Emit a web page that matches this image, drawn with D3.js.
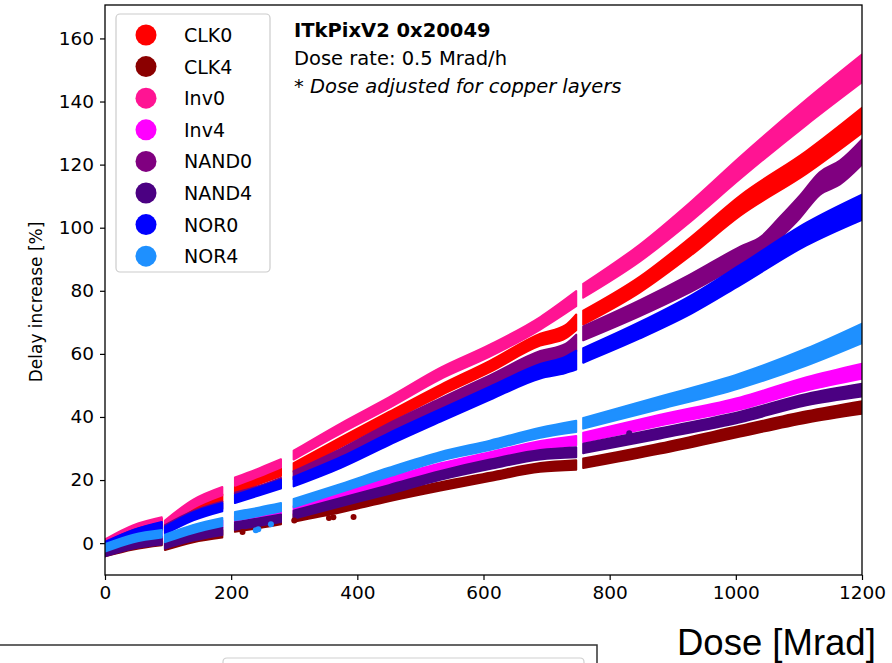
<!DOCTYPE html>
<html>
<head>
<meta charset="utf-8">
<script src="https://cdn.jsdelivr.net/npm/d3@7"></script>
<style>
  body { margin: 0; background: #fff; }
  svg text { font-family: "DejaVu Sans", sans-serif; fill: #000; }
</style>
</head>
<body>
<svg id="chart" width="892" height="663"></svg>
<script>
/* delay increase vs dose, ring oscillators ITkPixV2 */
const names  = ['CLK0', 'CLK4', 'Inv0', 'Inv4', 'NAND0', 'NAND4', 'NOR0', 'NOR4'];
const colors = ['#ff0000', '#8b0000', '#ff1493', '#ff00ff', '#800080', '#4b0082', '#0000ff', '#1e90ff'];
const xTicks = [0, 200, 400, 600, 800, 1000, 1200];
const yTicks = [0, 20, 40, 60, 80, 100, 120, 140, 160];

// each series = irradiation runs, point = [dose Mrad, delay %, half spread %]
const clk0 = [
  [[0, -0.5, 1.2], [45, 3.8, 1.2], [90, 6.5, 1.2]],
  [[95, 5, 1.2], [140, 10.5, 1.2], [186, 14.3, 1.2]],
  [[206, 16.8, 1.2], [245, 20, 1.2], [279, 22.5, 1.2]],
  [[299, 24, 1.4], [374, 32, 1.5], [450, 40, 1.6], [532, 48.5, 1.7], [610, 56, 1.8], [690, 64.5, 1.9], [730, 67, 2.1], [747, 70, 2.5]],
  [[758, 71.5, 2.2], [848, 82, 2.5], [928, 94, 2.9], [1007, 107, 3.2], [1112, 120.7, 3.6], [1200, 134, 4]]
];
const clk4 = [
  [[0, -3, 1.2], [45, -0.8, 1.2], [90, 0.5, 1.2]],
  [[95, -1, 1.2], [140, 1.5, 1.2], [186, 3, 1.2]],
  [[206, 4.8, 1.2], [245, 6, 1.2], [279, 7.2, 1.2]],
  [[299, 8, 1.2], [374, 11, 1.2], [450, 14.5, 1.2], [532, 18, 1.3], [610, 21, 1.3], [690, 24, 1.4], [747, 24.8, 1.5]],
  [[758, 25.3, 1.5], [880, 30, 1.6], [1007, 35.5, 1.7], [1112, 40, 1.8], [1200, 43, 2]]
];
const inv0 = [
  [[0, 0, 1.2], [45, 4.5, 1.2], [90, 7, 1.2]],
  [[95, 6, 1.2], [140, 12.5, 1.3], [186, 16.5, 1.3]],
  [[206, 19.5, 1.3], [245, 22.5, 1.3], [279, 25.3, 1.3]],
  [[299, 27.9, 1.4], [374, 36.4, 1.6], [450, 44.5, 1.7], [532, 53.8, 1.8], [610, 61, 1.9], [690, 69.7, 2], [747, 77.5, 2.4]],
  [[758, 80, 2.2], [848, 92, 2.7], [928, 105, 3.1], [1007, 119, 3.5], [1112, 136.6, 4], [1200, 150.5, 4.4]]
];
const inv4 = [
  [[0, -1.5, 1.2], [45, 1, 1.2], [90, 2.5, 1.2]],
  [[95, 1, 1.2], [140, 3.8, 1.2], [186, 6, 1.2]],
  [[206, 7.5, 1.2], [245, 9, 1.2], [279, 10.3, 1.2]],
  [[299, 10.5, 1.2], [374, 15, 1.2], [450, 19.5, 1.2], [532, 24, 1.3], [610, 27.5, 1.3], [690, 31, 1.4], [747, 32.5, 1.5]],
  [[758, 33.5, 1.5], [880, 39, 1.7], [1007, 44.3, 1.9], [1112, 50.5, 2.1], [1200, 54.5, 2.4]]
];
const nand0 = [
  [[0, -1, 1.2], [45, 3, 1.2], [90, 5.3, 1.2]],
  [[95, 4.5, 1.2], [140, 9, 1.2], [186, 12, 1.2]],
  [[206, 14.8, 1.2], [245, 17, 1.2], [279, 19.5, 1.2]],
  [[299, 21.5, 1.3], [374, 28.5, 1.4], [450, 36.5, 1.5], [532, 44.3, 1.6], [610, 51.5, 1.7], [690, 59, 1.9], [730, 61, 2.2], [747, 63.5, 2.6]],
  [[758, 66.5, 2.2], [848, 74.5, 2.5], [928, 82.4, 2.8], [1007, 91, 3], [1040, 94, 3.2], [1070, 100, 3.4],
   [1101, 106.5, 3.6], [1133, 114, 3.6], [1165, 117.5, 3.8], [1200, 124, 4]]
];
const nand4 = [
  [[0, -3, 1.2], [45, -0.5, 1.2], [90, 0.8, 1.2]],
  [[95, -0.5, 1.2], [140, 2, 1.2], [186, 3.8, 1.2]],
  [[206, 5.4, 1.2], [245, 6.7, 1.2], [279, 7.9, 1.2]],
  [[299, 9, 1.3], [374, 13, 1.3], [450, 17, 1.4], [532, 21.5, 1.4], [610, 25, 1.5], [690, 28, 1.5], [747, 28.8, 1.6]],
  [[758, 30, 1.5], [880, 34.8, 1.6], [1007, 40, 1.7], [1112, 45.5, 1.8], [1200, 48.5, 2]]
];
const nor0 = [
  [[0, -0.8, 1.2], [45, 3, 1.2], [90, 5.5, 1.2]],
  [[95, 4, 1.2], [140, 8.5, 1.3], [186, 11.4, 1.3]],
  [[206, 14, 1.3], [245, 16.5, 1.3], [279, 18.7, 1.4]],
  [[299, 19.5, 1.5], [374, 25.6, 1.7], [450, 33, 1.9], [532, 40.5, 2], [610, 47.5, 2.1], [690, 54.5, 2.3], [730, 56.5, 2.6], [747, 58, 3]],
  [[758, 59.5, 2.3], [848, 67.5, 2.6], [928, 75.5, 2.9], [1007, 85, 3.2], [1112, 98, 3.6], [1200, 106.5, 4]]
];
const nor4 = [
  [[0, -1.5, 1.2], [45, 1.5, 1.2], [90, 3, 1.2]],
  [[95, 1.5, 1.2], [140, 4.5, 1.3], [186, 6.7, 1.3]],
  [[206, 8.6, 1.3], [245, 10, 1.3], [279, 11.4, 1.3]],
  [[299, 12.7, 1.3], [374, 17.5, 1.3], [450, 22.5, 1.4], [532, 27.5, 1.4], [610, 31, 1.5], [690, 35, 1.6], [747, 37, 1.8]],
  [[758, 38, 1.7], [880, 44.5, 2], [1007, 51.5, 2.3], [1112, 59, 2.7], [1200, 66.5, 3.1]]
];
const seriesData = [clk0, clk4, inv0, inv4, nand0, nand4, nor0, nor4];

// isolated points off the bands: [series index, dose, delay]
const strayDots = [
  [1, 218, 3.5], [1, 355, 8], [1, 362, 8.2], [1, 394, 8.3], [1, 300, 7.2],
  [7, 239, 4.1], [7, 243, 4.4], [7, 263, 6], [5, 831, 34.8]
];

const infoLines = ['ITkPixV2 0x20049', 'Dose rate: 0.5 Mrad/h', '* Dose adjusted for copper layers'];

const svg = d3.select('#chart');
const plotL = 105, plotR = 862, plotT = 5, plotB = 575;

const x = d3.scaleLinear().domain([0, 1200]).range([plotL, plotR]);
const y = d3.scaleLinear().domain([-10.1, 170.6]).range([plotB, plotT]);

svg.append('clipPath').attr('id', 'plot-clip')
  .append('rect').attr('x', plotL).attr('y', plotT).attr('width', plotR - plotL).attr('height', plotB - plotT);

const plotArea = svg.append('g').attr('clip-path', 'url(#plot-clip)');

const band = d3.area()
  .x(d => x(d[0]))
  .y0(d => y(d[1] - d[2]))
  .y1(d => y(d[1] + d[2]))
  .curve(d3.curveMonotoneX);

seriesData.forEach((segments, i) => {
  const g = plotArea.append('g');
  segments.forEach(seg => {
    g.append('path')
      .attr('d', band(seg))
      .attr('fill', colors[i])
      .attr('stroke', colors[i])
      .attr('stroke-width', 2)
      .attr('stroke-linejoin', 'round');
  });
});

plotArea.selectAll('circle.stray').data(strayDots).enter().append('circle')
  .attr('cx', d => x(d[1])).attr('cy', d => y(d[2])).attr('r', 3)
  .attr('fill', d => colors[d[0]]);

// axes
const xAxis = svg.append('g').attr('transform', `translate(0,${plotB})`)
  .call(d3.axisBottom(x).tickValues(xTicks).tickSize(5).tickPadding(6).tickFormat(d3.format('d')));
const yAxis = svg.append('g').attr('transform', `translate(${plotL},0)`)
  .call(d3.axisLeft(y).tickValues(yTicks).tickSize(5).tickPadding(6).tickFormat(d3.format('d')));
[xAxis, yAxis].forEach(a => {
  a.select('.domain').remove();
  a.selectAll('line').attr('stroke', '#000').attr('stroke-width', 1.2);
  a.selectAll('text').attr('font-size', 18.5).attr('font-family', 'DejaVu Sans');
});

svg.append('rect').attr('x', plotL).attr('y', plotT).attr('width', plotR - plotL).attr('height', plotB - plotT)
  .attr('fill', 'none').attr('stroke', '#000').attr('stroke-width', 1.3);

svg.append('text').attr('transform', 'translate(42,302) rotate(-90)')
  .attr('text-anchor', 'middle').attr('font-size', 17).text('Delay increase [%]');

// legend
const legend = svg.append('g');
legend.append('rect').attr('x', 116).attr('y', 14).attr('width', 154).attr('height', 258).attr('rx', 4)
  .attr('fill', '#fff').attr('fill-opacity', 0.8).attr('stroke', '#cccccc').attr('stroke-width', 1.2);
names.forEach((n, i) => {
  const ly = 35 + i * 31.6;
  legend.append('circle').attr('cx', 146).attr('cy', ly).attr('r', 10.5).attr('fill', colors[i]);
  legend.append('text').attr('x', 184).attr('y', ly + 7).attr('font-size', 19).text(n);
});

// info text
svg.append('text').attr('x', 294).attr('y', 37).attr('font-size', 19.5).attr('font-weight', 'bold').text(infoLines[0]);
svg.append('text').attr('x', 294).attr('y', 65).attr('font-size', 19.5).text(infoLines[1]);
const note = svg.append('text').attr('x', 294).attr('y', 93).attr('font-size', 19.5);
note.append('tspan').text('* ');
note.append('tspan').attr('font-style', 'italic').text(infoLines[2].slice(2));

svg.append('text').attr('x', 677).attr('y', 655).attr('font-size', 36.5)
  .style('font-family', '"Liberation Sans", Arial, sans-serif').text('Dose [Mrad]');

// next panel (cut off at the bottom of the picture)
svg.append('path').attr('d', 'M0,645 H597 V663').attr('fill', 'none').attr('stroke', '#333').attr('stroke-width', 1.5);
svg.append('path').attr('d', 'M223,670 V662 Q223,658 227,658 H580 Q584,658 584,662 V670')
  .attr('fill', 'none').attr('stroke', '#d0d0d0').attr('stroke-width', 1.2);
</script>
</body>
</html>
